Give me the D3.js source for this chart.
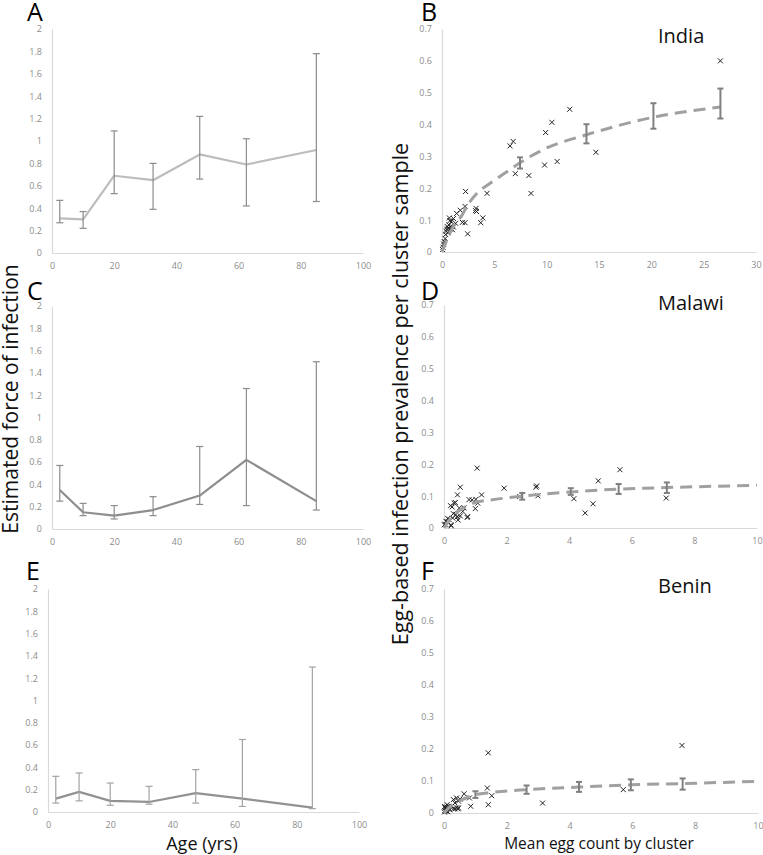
<!DOCTYPE html>
<html><head><meta charset="utf-8">
<script src="https://cdn.jsdelivr.net/npm/d3@7"></script>
<style>body{margin:0;background:#fff} svg{display:block} text{font-family:'Open Sans',sans-serif}</style>
</head><body><svg id="c" width="763" height="855"></svg>
<script>
// ---------- DATA ----------
const ages = [2.5, 10, 20, 32.5, 47.5, 62.5, 85];
const forceA = [0.31, 0.30, 0.69, 0.65, 0.88, 0.79, 0.92];
const forceALow = [0.27, 0.22, 0.53, 0.39, 0.66, 0.42, 0.46];
const forceAHigh = [0.47, 0.37, 1.09, 0.80, 1.22, 1.02, 1.78];
const forceC = [0.35, 0.15, 0.12, 0.17, 0.30, 0.62, 0.25];
const forceCLow = [0.25, 0.12, 0.09, 0.12, 0.22, 0.21, 0.17];
const forceCHigh = [0.57, 0.23, 0.21, 0.29, 0.74, 1.26, 1.50];
const forceE = [0.12, 0.18, 0.10, 0.09, 0.17, 0.12, 0.04];
const forceELow = [0.08, 0.10, 0.06, 0.07, 0.08, 0.05, 0.03];
const forceEHigh = [0.32, 0.35, 0.26, 0.23, 0.38, 0.65, 1.30];

const ageTicks = [0, 20, 40, 60, 80, 100];
const forceTicks = [0, 0.2, 0.4, 0.6, 0.8, 1, 1.2, 1.4, 1.6, 1.8, 2];
const prevTicks = [0, 0.1, 0.2, 0.3, 0.4, 0.5, 0.6, 0.7];
const indiaEggTicks = [0, 5, 10, 15, 20, 25, 30];
const eggTicks10 = [0, 2, 4, 6, 8, 10];

const indiaX = [26.6,12.2,10.5,9.9,6.5,6.8,14.7,11.0,9.8,7.0,8.3,8.5,4.3,2.25,3.25,3.3,3.2,3.9,3.7,2.2,1.95,2.45,2.2,1.75,1.4,1.1,0.7,0.75,0.9,0.5,0.6,0.8,1.0,0.65,0.85,1.1,0.4,0.35,0.3,0.2,0.15,0.05,0.1,1.3,0.55,0.45];
const indiaY = [0.600,0.448,0.407,0.375,0.333,0.347,0.313,0.284,0.273,0.246,0.240,0.184,0.184,0.190,0.137,0.127,0.130,0.107,0.092,0.092,0.093,0.057,0.143,0.131,0.121,0.105,0.107,0.098,0.095,0.080,0.074,0.072,0.070,0.085,0.080,0.078,0.065,0.055,0.042,0.033,0.025,0.008,0.015,0.090,0.060,0.072];
const indiaFitX = [0,0.5,1,1.9,2.5,3.3,4.7,6.2,7.45,9.7,13.8,20.2,26.6];
const indiaFitY = [0,0.04,0.075,0.115,0.15,0.183,0.218,0.252,0.28,0.322,0.368,0.423,0.455];
const indiaBarX = [7.45, 13.8, 20.2, 26.6];
const indiaBarLow = [0.262, 0.341, 0.387, 0.419];
const indiaBarHigh = [0.297, 0.401, 0.467, 0.513];

const malawiX = [1.06,0.52,0.43,0.36,0.21,0.26,0.8,0.9,1.02,1.0,1.2,1.92,2.42,2.94,2.96,3.0,4.15,4.51,4.76,4.93,5.62,7.1,0.03,0.1,0.23,0.49,0.6,0.38,0.42,0.52,0.76,0.74,0.28,0.17,0.06,0.01,0.22,0.12,0.64,0.33,1.08,0.45,0.3];
const malawiY = [0.188,0.128,0.104,0.080,0.070,0.066,0.089,0.088,0.090,0.061,0.104,0.125,0.099,0.128,0.132,0.101,0.092,0.047,0.076,0.148,0.183,0.094,0.012,0.020,0.007,0.063,0.052,0.042,0.035,0.038,0.036,0.033,0.031,0.026,0.021,0.010,0.010,0.030,0.063,0.078,0.078,0.025,0.045];
const malawiFitX = [0,0.3,0.6,1,1.5,2.5,4.05,5.58,7.12,10];
const malawiFitY = [0,0.04,0.062,0.08,0.088,0.1,0.113,0.122,0.127,0.134];
const malawiBarX = [2.5, 4.05, 5.58, 7.12];
const malawiBarLow = [0.089, 0.104, 0.107, 0.110];
const malawiBarHigh = [0.110, 0.125, 0.138, 0.143];

const beninX = [7.58,1.41,5.71,3.14,1.38,1.52,1.41,0.85,0.81,0.64,0.40,0.30,0.35,0.46,0.51,0.24,0.40,0.30,0.14,0.08,0.03,0.01,0.06,0.19,0.03,0.10,0.46,0.08,0.35,0.45,0.02,0.12];
const beninY = [0.211,0.188,0.073,0.031,0.078,0.054,0.026,0.021,0.047,0.060,0.047,0.042,0.031,0.037,0.044,0.021,0.016,0.013,0.021,0.013,0.008,0.003,0.005,0.010,0.016,0.026,0.016,0.019,0.013,0.013,0.020,0.004];
const beninFitX = [0,0.2,0.5,1,1.5,2.63,4.3,5.95,7.6,10];
const beninFitY = [0,0.02,0.038,0.057,0.064,0.073,0.081,0.088,0.092,0.099];
const beninBarX = [1, 2.63, 4.3, 5.95, 7.6];
const beninBarLow = [0.047, 0.060, 0.066, 0.071, 0.073];
const beninBarHigh = [0.068, 0.086, 0.097, 0.105, 0.108];

// ---------- DRAW ----------
const svg = d3.select("#c");
const fmt = d => String(+d.toFixed(2));

function axes(g, x, y, xt, yt) {
  const ax = g.append("g").attr("transform", `translate(0,${y.range()[0]})`)
    .call(d3.axisBottom(x).tickValues(xt).tickFormat(fmt).tickSize(0).tickSizeOuter(0).tickPadding(10));
  const ay = g.append("g").attr("transform", `translate(${x.range()[0]},0)`)
    .call(d3.axisLeft(y).tickValues(yt).tickFormat(fmt).tickSize(0).tickSizeOuter(0).tickPadding(10));
  [ax, ay].forEach(a => {
    a.select(".domain").attr("stroke", "#d9d9d9").attr("stroke-width", 1.2);
    a.selectAll("text").attr("fill", "#8c8c8c").style("font-size", "9px").style("font-family", "'Open Sans',sans-serif");
  });
}

function leftPanel(cfg) {
  const x = d3.scaleLinear().domain([0, 100]).range([cfg.x0, cfg.x1]);
  const y = d3.scaleLinear().domain([0, 2]).range([cfg.y1, cfg.y0]);
  const g = svg.append("g");
  axes(g, x, y, ageTicks, forceTicks);
  const line = d3.line().x((d, i) => x(ages[i])).y(d => y(d));
  g.append("path").datum(cfg.vals).attr("d", line).attr("fill", "none")
    .attr("stroke", cfg.lineColor).attr("stroke-width", 2.2).attr("stroke-linejoin", "round");
  const eb = g.append("g").attr("stroke", cfg.errColor).attr("stroke-width", 1.2);
  ages.forEach((a, i) => {
    const cx = x(a);
    eb.append("line").attr("x1", cx).attr("x2", cx).attr("y1", y(cfg.lo[i])).attr("y2", y(cfg.hi[i]));
    eb.append("line").attr("x1", cx - 3.5).attr("x2", cx + 3.5).attr("y1", y(cfg.lo[i])).attr("y2", y(cfg.lo[i]));
    eb.append("line").attr("x1", cx - 3.5).attr("x2", cx + 3.5).attr("y1", y(cfg.hi[i])).attr("y2", y(cfg.hi[i]));
  });
  svg.append("text").attr("x", cfg.lx).attr("y", cfg.ly).text(cfg.letter)
    .style("font-size", "25px").attr("fill", "#000");
}

function rightPanel(cfg) {
  const x = d3.scaleLinear().domain([0, cfg.xmax]).range([cfg.x0, cfg.x1]);
  const y = d3.scaleLinear().domain([0, 0.7]).range([cfg.y1, cfg.y0]);
  const g = svg.append("g");
  axes(g, x, y, cfg.xt, prevTicks);
  g.append("g").selectAll("path").data(cfg.px).join("path")
    .attr("transform", (d, i) => `translate(${x(d)},${y(cfg.py[i])})`)
    .attr("d", "M-2.5,-2.5L2.5,2.5M-2.5,2.5L2.5,-2.5")
    .attr("stroke", "#222").attr("stroke-width", 1).attr("fill", "none");
  const line = d3.line().curve(d3.curveMonotoneX).x((d, i) => x(cfg.fx[i])).y(d => y(d));
  g.append("path").datum(cfg.fy).attr("d", line).attr("fill", "none")
    .attr("stroke", "#a0a0a0").attr("stroke-width", 3).attr("stroke-dasharray", "12,7");
  const eb = g.append("g").attr("stroke", "#808080").attr("stroke-width", 2);
  cfg.bx.forEach((b, i) => {
    const cx = x(b);
    eb.append("line").attr("x1", cx).attr("x2", cx).attr("y1", y(cfg.blo[i])).attr("y2", y(cfg.bhi[i]));
    eb.append("line").attr("x1", cx - 3).attr("x2", cx + 3).attr("y1", y(cfg.blo[i])).attr("y2", y(cfg.blo[i]));
    eb.append("line").attr("x1", cx - 3).attr("x2", cx + 3).attr("y1", y(cfg.bhi[i])).attr("y2", y(cfg.bhi[i]));
  });
  svg.append("text").attr("x", cfg.lx).attr("y", cfg.ly).text(cfg.letter)
    .style("font-size", "25px").attr("fill", "#000");
  svg.append("text").attr("x", 658).attr("y", cfg.cy).text(cfg.country)
    .style("font-size", "20px").attr("fill", "#111");
}

leftPanel({x0: 52, x1: 363, y0: 29, y1: 253, vals: forceA, lo: forceALow, hi: forceAHigh,
  lineColor: "#bdbdbd", errColor: "#8c8c8c", letter: "A", lx: 27, ly: 21});
leftPanel({x0: 52, x1: 363, y0: 306, y1: 529, vals: forceC, lo: forceCLow, hi: forceCHigh,
  lineColor: "#8e8e8e", errColor: "#8c8c8c", letter: "C", lx: 27, ly: 300});
leftPanel({x0: 48, x1: 359, y0: 589, y1: 812, vals: forceE, lo: forceELow, hi: forceEHigh,
  lineColor: "#929292", errColor: "#a3a3a3", letter: "E", lx: 26, ly: 580});

rightPanel({x0: 442, x1: 756, y0: 29, y1: 252, xmax: 30, xt: indiaEggTicks,
  px: indiaX, py: indiaY, fx: indiaFitX, fy: indiaFitY, bx: indiaBarX, blo: indiaBarLow, bhi: indiaBarHigh,
  letter: "B", lx: 421, ly: 21, country: "India", cy: 43});
rightPanel({x0: 444, x1: 757, y0: 305, y1: 528, xmax: 10, xt: eggTicks10,
  px: malawiX, py: malawiY, fx: malawiFitX, fy: malawiFitY, bx: malawiBarX, blo: malawiBarLow, bhi: malawiBarHigh,
  letter: "D", lx: 421, ly: 300, country: "Malawi", cy: 310});
rightPanel({x0: 444, x1: 758, y0: 589, y1: 813, xmax: 10, xt: eggTicks10,
  px: beninX, py: beninY, fx: beninFitX, fy: beninFitY, bx: beninBarX, blo: beninBarLow, bhi: beninBarHigh,
  letter: "F", lx: 421, ly: 580, country: "Benin", cy: 593});

// axis titles
svg.append("text").attr("transform", "translate(18,399) rotate(-90)").attr("text-anchor", "middle")
  .style("font-size", "21px").attr("fill", "#111").text("Estimated force of infection");
svg.append("text").attr("transform", "translate(408,394) rotate(-90)").attr("text-anchor", "middle")
  .style("font-size", "21.5px").attr("fill", "#111").text("Egg-based infection prevalence per cluster sample");
svg.append("text").attr("x", 202).attr("y", 850).attr("text-anchor", "middle")
  .style("font-size", "18px").attr("fill", "#111").text("Age (yrs)");
svg.append("text").attr("x", 599).attr("y", 849).attr("text-anchor", "middle")
  .style("font-size", "15.5px").attr("fill", "#111").text("Mean egg count by cluster");
</script></body></html>
